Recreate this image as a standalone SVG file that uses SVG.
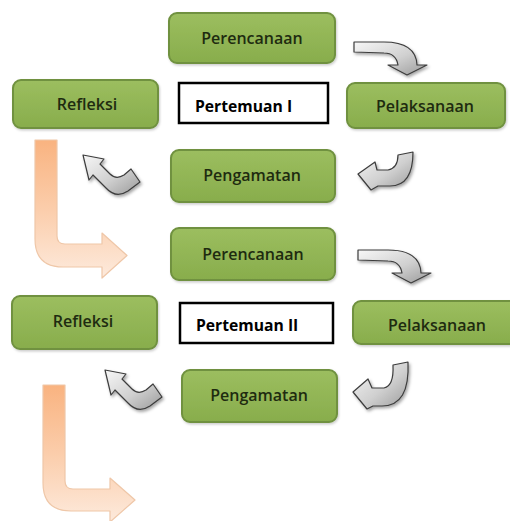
<svg xmlns="http://www.w3.org/2000/svg" width="510" height="521" viewBox="0 0 510 521">
<defs>
<linearGradient id="gGreen" x1="0" y1="0" x2="0" y2="1">
<stop offset="0" stop-color="#9CBE5F"/>
<stop offset="1" stop-color="#88AD4C"/>
</linearGradient>
<linearGradient id="gGray" x1="0" y1="0" x2="1" y2="1">
<stop offset="0" stop-color="#f7f7f7"/>
<stop offset="0.55" stop-color="#d0d0d0"/>
<stop offset="1" stop-color="#9a9a9a"/>
</linearGradient>
<linearGradient id="gOrange" x1="0" y1="0" x2="0" y2="1">
<stop offset="0" stop-color="#F9B380"/>
<stop offset="0.5" stop-color="#FBCDAB"/>
<stop offset="1" stop-color="#FDEADC"/>
</linearGradient>
<filter id="shadow" x="-20%" y="-20%" width="150%" height="150%">
<feDropShadow dx="1.5" dy="2" stdDeviation="1.5" flood-color="#000" flood-opacity="0.35"/>
</filter>
<filter id="bshadow" x="-10%" y="-10%" width="130%" height="140%">
<feDropShadow dx="1" dy="1.5" stdDeviation="1.2" flood-color="#000" flood-opacity="0.2"/>
</filter>
<path id="arrowA" d="M354,42 L384,42 Q416,42 417,65 L427,65 L407,75 L388,65 L398,65 Q396,53 384,53 L354,52 Z"/>
<path id="arrowC" d="M83,155 L104,159 L100,164 L110,174 Q116,180 124,175 L131,169 L140,182 L128,191 Q116,199 106,188 L93,175 L89,180 Z"/>
</defs>
<style>
.box{fill:url(#gGreen);stroke:#6F913F;stroke-width:2;filter:url(#bshadow)}
.lbl{font-family:"Open Sans","Noto Sans",sans-serif;font-size:16px;font-weight:600;fill:#1E2B10;text-anchor:middle}
.meet{fill:#fff;stroke:#000;stroke-width:2.5}
.mlbl{font-family:"Open Sans","Noto Sans",sans-serif;font-size:15.7px;font-weight:bold;fill:#000}
.garrow{fill:url(#gGray);stroke:#3c3c3c;stroke-width:1.2;stroke-linejoin:round;filter:url(#shadow)}
.oarrow{fill:url(#gOrange);stroke:#EFC7A8;stroke-width:1.2;stroke-linejoin:round}
</style>
<rect width="510" height="521" fill="#fff"/>
<g id="connectors">
<path class="oarrow" d="M35,140 L57,140 L57,236 Q57,244 65,244 L102,244 L102,233 L127,255.5 L102,278 L102,267 L63,267 Q35,267 35,239 Z"/>
<path class="oarrow" d="M43,385 L65,385 L65,481 Q65,489 73,489 L110,489 L110,478 L135,500 L110,522 L110,511 L71,511 Q43,511 43,483 Z"/>
<use href="#arrowA" class="garrow"/>
<use href="#arrowA" class="garrow" transform="translate(4,208)"/>
<path class="garrow" d="M398,155 L413,152 Q413,186 390,186 L378,186 L371,190 L358,174 L375,162 L377,170 L388,170 Q398,168 398,155 Z"/>
<path class="garrow" d="M393,365 L408,362 Q410,406 382,406 L373,406 L367,409 L353,392 L368,379 L372,388 L384,388 Q394,386 393,365 Z"/>
<use href="#arrowC" class="garrow"/>
<use href="#arrowC" class="garrow" transform="translate(22,215)"/>
</g>
<g id="perencanaan1"><rect class="box" x="169" y="13" width="166" height="50" rx="8"/><text class="lbl" x="252" y="44">Perencanaan</text></g>
<g id="refleksi1"><rect class="box" x="13" y="80" width="145" height="48" rx="8"/><text class="lbl" x="87" y="110">Refleksi</text></g>
<g id="pertemuan1"><rect class="meet" x="179" y="83" width="149" height="40"/><text class="mlbl" x="195" y="112">Pertemuan I</text></g>
<g id="pelaksanaan1"><rect class="box" x="347" y="83" width="158" height="45" rx="8"/><text class="lbl" x="425" y="112">Pelaksanaan</text></g>
<g id="pengamatan1"><rect class="box" x="171" y="150" width="164" height="52" rx="8"/><text class="lbl" x="252" y="181">Pengamatan</text></g>
<g id="perencanaan2"><rect class="box" x="171" y="228" width="164" height="52" rx="8"/><text class="lbl" x="253" y="260">Perencanaan</text></g>
<g id="refleksi2"><rect class="box" x="12" y="296" width="145" height="53" rx="8"/><text class="lbl" x="83" y="327">Refleksi</text></g>
<g id="pertemuan2"><rect class="meet" x="180" y="303" width="153" height="40"/><text class="mlbl" x="196" y="331">Pertemuan II</text></g>
<g id="pelaksanaan2"><rect class="box" x="353" y="301" width="172" height="43" rx="8"/><text class="lbl" x="437" y="331">Pelaksanaan</text></g>
<g id="pengamatan2"><rect class="box" x="182" y="370" width="155" height="52" rx="8"/><text class="lbl" x="259" y="401">Pengamatan</text></g>
</svg>
